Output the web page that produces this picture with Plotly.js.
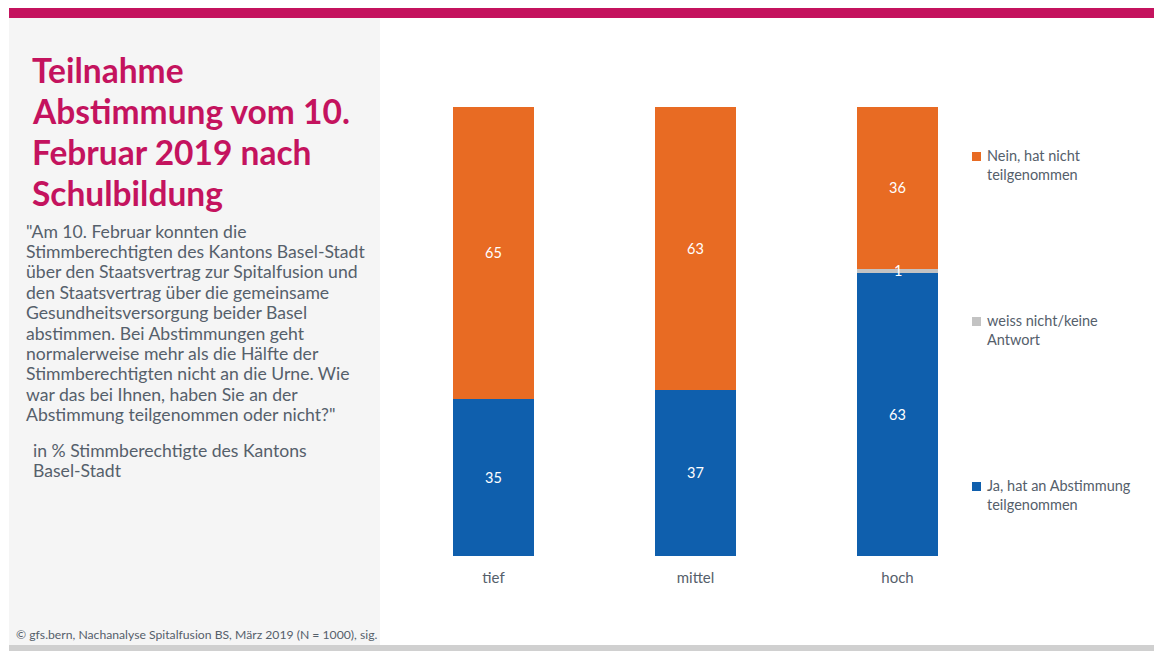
<!DOCTYPE html>
<html>
<head>
<meta charset="utf-8">
<script src="https://cdn.plot.ly/plotly-3.0.1.min.js"></script>
<style>
html,body{margin:0;padding:0;background:#fff;}
#chart{width:1154px;height:651px;}
</style>
</head>
<body>
<div id="chart"></div>
<script>
// ---- data ----
const categories = ["tief", "mittel", "hoch"];
const jaValues = [35, 37, 63];
const weissValues = [0, 0, 1];
const neinValues = [65, 63, 36];
const seriesNames = ["Ja, hat an Abstimmung<br>teilgenommen", "weiss nicht/keine<br>Antwort", "Nein, hat nicht<br>teilgenommen"];
const titleLines = ["Teilnahme", "Abstimmung vom 10.", "Februar 2019 nach", "Schulbildung"];
const questionLines = [
  "\"Am 10. Februar konnten die",
  "Stimmberechtigten des Kantons Basel-Stadt",
  "über den Staatsvertrag zur Spitalfusion und",
  "den Staatsvertrag über die gemeinsame",
  "Gesundheitsversorgung beider Basel",
  "abstimmen. Bei Abstimmungen geht",
  "normalerweise mehr als die Hälfte der",
  "Stimmberechtigten nicht an die Urne. Wie",
  "war das bei Ihnen, haben Sie an der",
  "Abstimmung teilgenommen oder nicht?\""
];
const baseLines = ["in % Stimmberechtigte des Kantons", "Basel-Stadt"];
const footerText = "© gfs.bern, Nachanalyse Spitalfusion BS, März 2019 (N = 1000), sig.";

const W = 1154, H = 651;
const FONT = "Lato, 'Noto Sans', sans-serif";
const TEXTC = "#55606b";
const colors = ["#0f5fad", "#c3c3c3", "#e86b23"];
const px = x => x / W;
const py = y => 1 - y / H;

function labels(vals){ return vals.map(v => v > 0 ? String(v) : ""); }

const allValues = [jaValues, weissValues, neinValues];
const traces = allValues.map((vals, i) => ({
  type: "bar",
  x: categories,
  y: vals,
  name: seriesNames[i],
  marker: {color: colors[i], line: {width: 0}},
  text: labels(vals),
  textposition: i === 1 ? "none" : "inside",
  insidetextanchor: "middle",
  textfont: {color: "#ffffff", size: 14.5, family: FONT},
  cliponaxis: false,
  hoverinfo: "skip",
  showlegend: false
}));

const annotations = [];
// label for thin gray segment
categories.forEach((c, k) => {
  if (weissValues[k] > 0) {
    annotations.push({
      x: c, xref: "x", y: jaValues[k] + weissValues[k] / 2, yref: "y",
      text: String(weissValues[k]), showarrow: false,
      font: {color: "#ffffff", size: 14.5, family: FONT}
    });
  }
});

// title lines
titleLines.forEach((t, i) => {
  annotations.push({
    xref: "paper", yref: "paper", x: px(30), y: py(70 + i * 41),
    xanchor: "left", yanchor: "middle", showarrow: false, align: "left",
    text: "<b>" + t + "</b>", font: {family: FONT, size: 33.5, color: "#c4135e"}
  });
});
questionLines.forEach((t, i) => {
  annotations.push({
    xref: "paper", yref: "paper", x: px(24), y: py(231 + i * 20.4),
    xanchor: "left", yanchor: "middle", showarrow: false, align: "left",
    text: t, font: {family: FONT, size: 17.6, color: TEXTC}
  });
});
baseLines.forEach((t, i) => {
  annotations.push({
    xref: "paper", yref: "paper", x: px(31), y: py(450 + i * 20.4),
    xanchor: "left", yanchor: "middle", showarrow: false, align: "left",
    text: t, font: {family: FONT, size: 17.6, color: TEXTC}
  });
});
annotations.push({
  xref: "paper", yref: "paper", x: px(14), y: py(634),
  xanchor: "left", yanchor: "middle", showarrow: false, align: "left",
  text: footerText, font: {family: FONT, size: 12.2, color: TEXTC}
});

// legend (custom)
const legendOrder = [2, 1, 0];
const legendY = [165, 330, 495];
const shapes = [
  {type: "rect", xref: "paper", yref: "paper", x0: px(9), x1: px(380), y0: py(18), y1: py(645), fillcolor: "#f5f5f5", line: {width: 0}, layer: "below"},
  {type: "rect", xref: "paper", yref: "paper", x0: px(9), x1: 1, y0: py(8), y1: py(18), fillcolor: "#c4135e", line: {width: 0}},
  {type: "rect", xref: "paper", yref: "paper", x0: px(9), x1: 1, y0: py(645), y1: 0, fillcolor: "#d0d0d0", line: {width: 0}}
];
legendOrder.forEach((s, j) => {
  const yc = legendY[j];
  shapes.push({type: "rect", xref: "paper", yref: "paper", x0: px(972), x1: px(981), y0: py(yc - 13), y1: py(yc - 4), fillcolor: colors[s], line: {width: 0}});
  annotations.push({
    xref: "paper", yref: "paper", x: px(985), y: py(yc - 0.5),
    xanchor: "left", yanchor: "middle", showarrow: false, align: "left",
    text: seriesNames[s], font: {family: FONT, size: 14.5, color: TEXTC}
  });
});

const layout = {
  width: W, height: H,
  margin: {l: 0, r: 0, t: 0, b: 0},
  paper_bgcolor: "#ffffff",
  plot_bgcolor: "rgba(0,0,0,0)",
  barmode: "stack",
  bargap: 0.6,
  showlegend: false,
  xaxis: {
    domain: [px(392.5), px(998.5)],
    range: [-0.5, 2.5],
    showgrid: false, zeroline: false, showline: false, ticks: "",
    tickfont: {family: FONT, size: 15, color: TEXTC},
    ticklabelstandoff: 11,
    fixedrange: true
  },
  yaxis: {
    domain: [py(556), py(107)],
    range: [0, 100],
    visible: false, fixedrange: true
  },
  shapes: shapes,
  annotations: annotations,
  font: {family: FONT}
};

Plotly.newPlot("chart", traces, layout, {staticPlot: true, displayModeBar: false});
</script>
</body>
</html>
